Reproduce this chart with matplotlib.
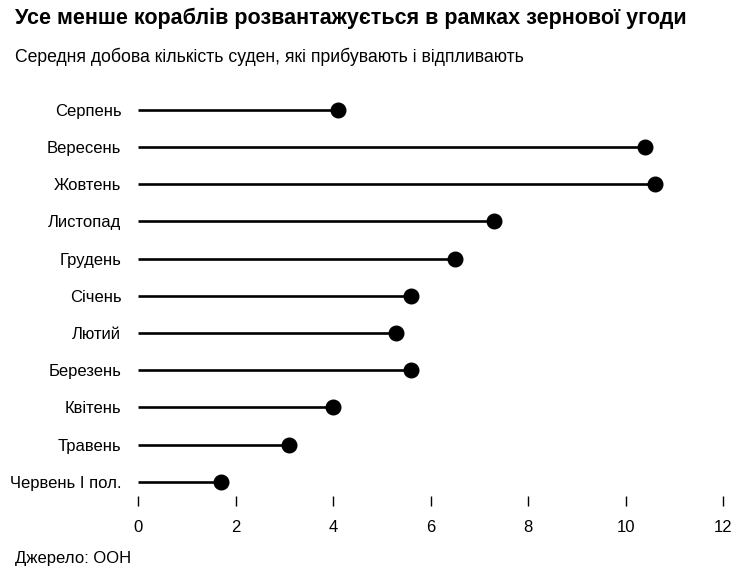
import matplotlib
matplotlib.use("Agg")
import matplotlib.pyplot as plt

plt.rcParams['font.family'] = ['Liberation Sans', 'DejaVu Sans']

months = ["Серпень", "Вересень", "Жовтень", "Листопад", "Грудень", "Січень",
          "Лютий", "Березень", "Квітень", "Травень", "Червень I пол."]
ships_per_day = [4.1, 10.4, 10.6, 7.3, 6.5, 5.6, 5.3, 5.6, 4.0, 3.1, 1.7]
x_ticks = [0, 2, 4, 6, 8, 10, 12]

fig = plt.figure(figsize=(7.5, 5.75), dpi=100)
ax = fig.add_axes([138 / 750, 1 - 496 / 575, 585 / 750, 401 / 575])

pos = list(range(len(months)))
ax.hlines(pos, 0, ships_per_day, color="black", linewidth=1.9)
ax.plot(ships_per_day, pos, "o", color="black", markersize=10.5)

ax.set_xlim(0, 12)
ax.set_ylim(10.38, -0.4)
ax.set_xticks(x_ticks)
ax.set_xticklabels([str(t) for t in x_ticks])
ax.set_yticks(pos)
ax.set_yticklabels(months)

for s in ax.spines.values():
    s.set_visible(False)
ax.tick_params(axis="y", length=0, pad=12, labelsize=12)
ax.tick_params(axis="x", length=7, width=1, pad=10, labelsize=12)

fig.text(15 / 750, 1 - 18 / 575, "Усе менше кораблів розвантажується в рамках зернової угоди",
         fontsize=15.5, fontweight="bold", va="center", ha="left")
fig.text(15 / 750, 1 - 57 / 575, "Середня добова кількість суден, які прибувають і відпливають",
         fontsize=12.7, va="center", ha="left")
fig.text(15 / 750, 1 - 558 / 575, "Джерело: ООН", fontsize=12, va="center", ha="left")

fig.savefig("out.png", dpi=100)
